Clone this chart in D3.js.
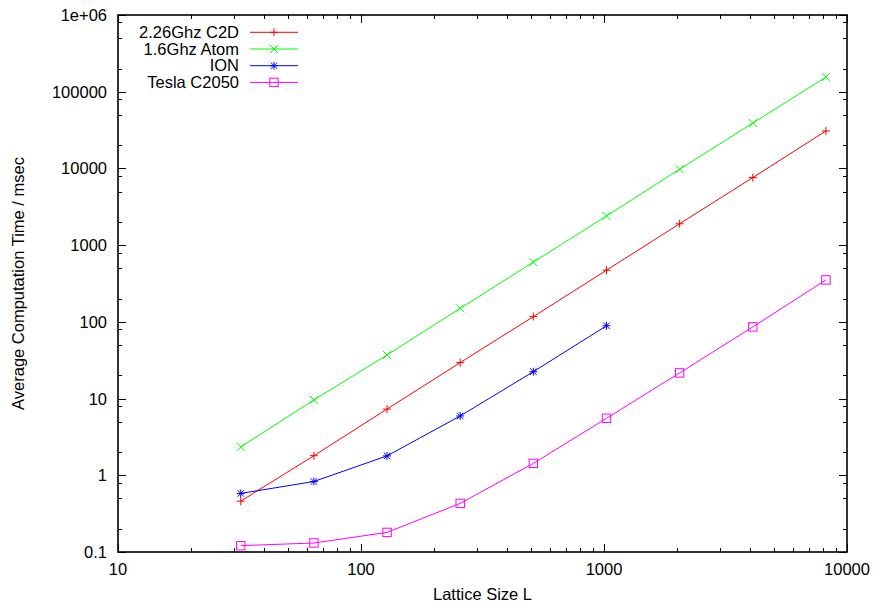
<!DOCTYPE html>
<html>
<head>
<meta charset="utf-8">
<script src="https://cdn.jsdelivr.net/npm/d3@7"></script>
<style>
  html, body { margin: 0; padding: 0; background: #fff; }
  svg { display: block; }
  text { font-family: "Liberation Sans", Arial, Helvetica, sans-serif; fill: #000; }
</style>
</head>
<body>
<svg id="chart" width="877" height="607"></svg>
<script>
// Lattice sizes (x) and average computation times in msec (y)
const latticeSizes = [32, 64, 128, 256, 512, 1024, 2048, 4096, 8192];
const c2dTimes   = [0.46, 1.8, 7.3, 29.4, 117, 471, 1900, 7600, 30800];
const atomTimes  = [2.34, 9.6, 37, 150, 600, 2400, 9770, 39000, 155000];
const ionTimes   = [0.58, 0.83, 1.79, 5.93, 22.4, 89];
const teslaTimes = [0.121, 0.131, 0.18, 0.43, 1.43, 5.53, 21.6, 86, 352];

const seriesNames  = ["2.26Ghz C2D", "1.6Ghz Atom", "ION", "Tesla C2050"];
const seriesColors = ["#ff0000", "#00ff00", "#0000ff", "#ff00ff"];
const seriesMarks  = ["plus", "cross", "star", "square"];

const xTickValues = [10, 100, 1000, 10000];
const xTickLabels = ["10", "100", "1000", "10000"];
const yTickValues = [0.1, 1, 10, 100, 1000, 10000, 100000, 1000000];
const yTickLabels = ["0.1", "1", "10", "100", "1000", "10000", "100000", "1e+06"];

const xTitle = "Lattice Size L";
const yTitle = "Average Computation Time / msec";

const series = [c2dTimes, atomTimes, ionTimes, teslaTimes].map((vals, i) => ({
  name: seriesNames[i],
  color: seriesColors[i],
  mark: seriesMarks[i],
  points: vals.map((v, j) => ({ x: latticeSizes[j], y: v }))
}));

const svg = d3.select("#chart");
const margin = { left: 118, right: 30, top: 15, bottom: 55 };
const W = 877, H = 607;
const x0 = margin.left, x1 = W - margin.right;
const y0 = H - margin.bottom, y1 = margin.top;

const x = d3.scaleLog().domain([10, 10000]).range([x0, x1]);
const y = d3.scaleLog().domain([0.1, 1e6]).range([y0, y1]);

const FONT = 16.5;
const majorLen = 8, minorLen = 4;

// minor tick positions
const xMinor = [], yMinor = [];
for (let d = 10; d < 10000; d *= 10) for (let k = 2; k <= 9; k++) xMinor.push(d * k);
for (let d = 0.1; d < 1e6 * 0.99; d *= 10) for (const k of [2, 5, 8]) yMinor.push(d * k);

const ticks = svg.append("g").attr("stroke", "#000").attr("stroke-width", 1).attr("shape-rendering", "crispEdges");

function xt(v, len) {
  const px = Math.round(x(v)) + 0.5;
  ticks.append("line").attr("x1", px).attr("x2", px).attr("y1", y0).attr("y2", y0 - len);
  ticks.append("line").attr("x1", px).attr("x2", px).attr("y1", y1).attr("y2", y1 + len);
}
function yt(v, len) {
  const py = Math.round(y(v)) + 0.5;
  ticks.append("line").attr("x1", x0).attr("x2", x0 + len).attr("y1", py).attr("y2", py);
  ticks.append("line").attr("x1", x1).attr("x2", x1 - len).attr("y1", py).attr("y2", py);
}
xTickValues.forEach(v => xt(v, majorLen));
xMinor.forEach(v => xt(v, minorLen));
yTickValues.forEach(v => yt(v, majorLen));
yMinor.forEach(v => yt(v, minorLen));

// tick labels
svg.append("g").selectAll("text").data(xTickValues).join("text")
  .attr("x", d => x(d)).attr("y", y0 + 23)
  .attr("text-anchor", "middle").attr("font-size", FONT)
  .text((d, i) => xTickLabels[i]);
svg.append("g").selectAll("text").data(yTickValues).join("text")
  .attr("x", x0 - 11).attr("y", d => y(d) + 6)
  .attr("text-anchor", "end").attr("font-size", FONT)
  .text((d, i) => yTickLabels[i]);

// axis titles
svg.append("text").attr("x", (x0 + x1) / 2).attr("y", 600)
  .attr("text-anchor", "middle").attr("font-size", FONT).text(xTitle);
svg.append("text").attr("transform", `translate(24,${(y0 + y1) / 2}) rotate(-90)`)
  .attr("text-anchor", "middle").attr("font-size", FONT).text(yTitle);

// point symbols
function drawMark(g, kind, cx, cy, color) {
  const p = g.append("g").attr("stroke", color).attr("stroke-width", 1).attr("fill", "none");
  if (kind === "plus" || kind === "star") {
    const s = 4;
    p.append("line").attr("x1", cx - s).attr("x2", cx + s).attr("y1", cy).attr("y2", cy);
    p.append("line").attr("x1", cx).attr("x2", cx).attr("y1", cy - s).attr("y2", cy + s);
  }
  if (kind === "cross" || kind === "star") {
    const t = kind === "star" ? 3.2 : 4;
    p.append("line").attr("x1", cx - t).attr("x2", cx + t).attr("y1", cy - t).attr("y2", cy + t);
    p.append("line").attr("x1", cx - t).attr("x2", cx + t).attr("y1", cy + t).attr("y2", cy - t);
  }
  if (kind === "square") {
    p.append("rect").attr("x", cx - 4.2).attr("y", cy - 4.2).attr("width", 8.4).attr("height", 8.4);
  }
}

const line = d3.line().x(d => x(d.x)).y(d => y(d.y));
const plot = svg.append("g");
series.forEach(s => {
  plot.append("path").datum(s.points).attr("d", line)
    .attr("fill", "none").attr("stroke", s.color).attr("stroke-width", 1);
  s.points.forEach(p => drawMark(plot, s.mark, x(p.x), y(p.y), s.color));
});

// legend
const legend = svg.append("g");
series.forEach((s, i) => {
  const ly = 32.3 + i * 16.7;
  legend.append("text").attr("x", 239).attr("y", ly + 5.5)
    .attr("text-anchor", "end").attr("font-size", FONT).text(s.name);
  legend.append("line").attr("x1", 250).attr("x2", 298).attr("y1", ly).attr("y2", ly)
    .attr("stroke", s.color).attr("stroke-width", 1);
  drawMark(legend, s.mark, 274, ly, s.color);
});

// plot border
svg.append("rect").attr("x", x0).attr("y", y1)
  .attr("width", x1 - x0).attr("height", y0 - y1)
  .attr("fill", "none").attr("stroke", "#000").attr("stroke-width", 1.6);
</script>
</body>
</html>
